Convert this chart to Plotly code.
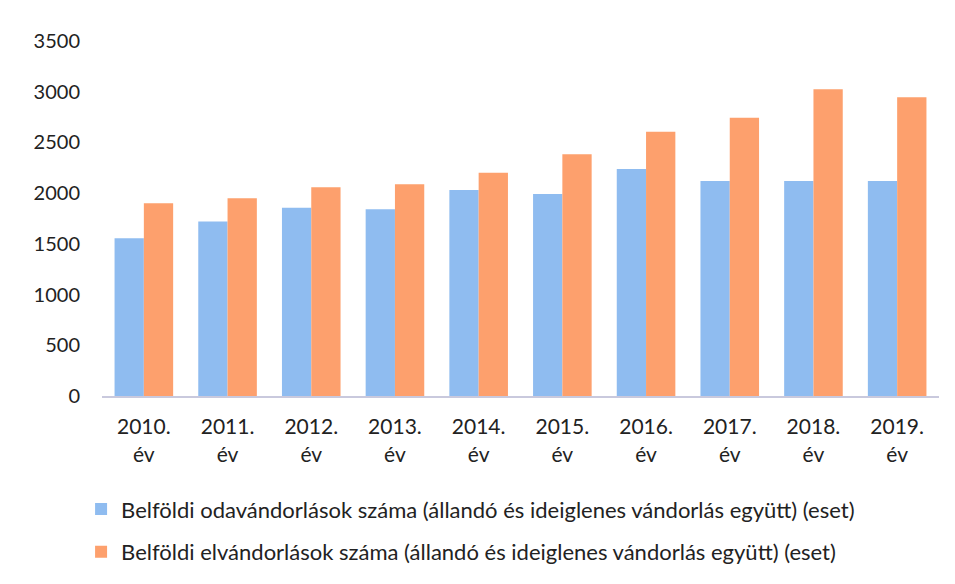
import plotly.graph_objects as go

years = ["2010.<br>év", "2011.<br>év", "2012.<br>év", "2013.<br>év", "2014.<br>év",
         "2015.<br>év", "2016.<br>év", "2017.<br>év", "2018.<br>év", "2019.<br>év"]
odavandorlas = [1555, 1720, 1857, 1841, 2031, 1992, 2238, 2120, 2120, 2120]
elvandorlas = [1900, 1949, 2058, 2087, 2202, 2383, 2606, 2744, 3024, 2945]
yticks = [0, 500, 1000, 1500, 2000, 2500, 3000, 3500]

name_oda = "Belföldi odavándorlások száma (állandó és ideiglenes vándorlás együtt) (eset)"
name_el = "Belföldi elvándorlások száma (állandó és ideiglenes vándorlás együtt) (eset)"

fig = go.Figure()
fig.add_trace(go.Bar(x=years, y=odavandorlas, name=name_oda,
                     marker=dict(color="#8fbcf0", line=dict(width=0)), legendgroup="a"))
fig.add_trace(go.Bar(x=years, y=elvandorlas, name=name_el,
                     marker=dict(color="#fda06d", line=dict(width=0)), legendgroup="b"))

fig.update_layout(
    width=955, height=584,
    margin=dict(l=94, r=24, t=33, b=196),
    paper_bgcolor="white", plot_bgcolor="white",
    font=dict(family="Lato, 'Open Sans', sans-serif", size=20, color="#222222"),
    barmode="group", bargap=0.3, bargroupgap=0,
    showlegend=True,
    legend=dict(orientation="v", x=-0.025, xanchor="left", y=-0.26, yanchor="top",
                font=dict(size=22, color="#222222"), tracegroupgap=11,
                itemwidth=30),
)
fig.update_xaxes(showgrid=False, showline=True, linecolor="#c9c9dd", linewidth=2,
                 ticks="", tickfont=dict(size=21), ticklabelstandoff=11)
fig.update_yaxes(range=[0, 3500], tickvals=yticks, showgrid=False, showline=False,
                 zeroline=False, ticks="", ticklabelstandoff=21, tickfont=dict(size=20))

fig.write_html("out.html")
